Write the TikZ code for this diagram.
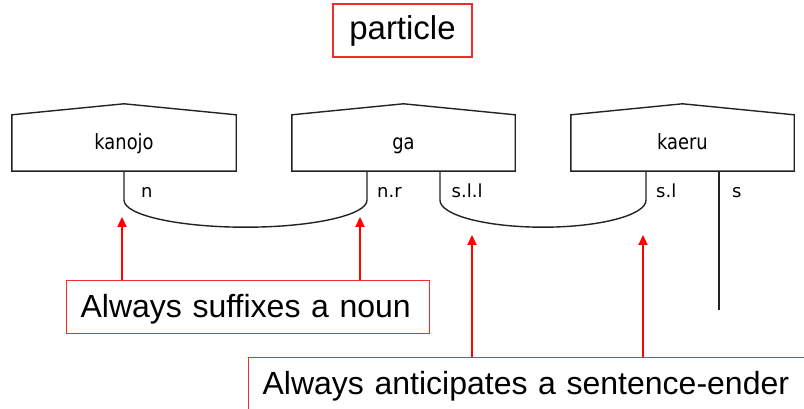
\documentclass[tikz,border=0pt]{standalone}
\usepackage{fontspec}
\setmainfont{Liberation Sans}
\newfontfamily\wordfont[FakeStretch=0.85]{DejaVu Sans}
\newfontfamily\portfont{DejaVu Sans}
\usetikzlibrary{calc,arrows.meta}
\definecolor{notered}{RGB}{240,45,45}
\definecolor{linkgray}{RGB}{35,35,35}
\begin{document}
\begin{tikzpicture}[x=1pt,y=1pt,
  wordbox/.style={minimum width=223pt, minimum height=56pt, inner sep=0pt,
    text height=17pt, text depth=3pt,
    font=\wordfont\fontsize{21}{25}\selectfont},
  portlabel/.style={anchor=base west, inner sep=0pt,
    font=\portfont\fontsize{18}{22}\selectfont},
  link/.style={draw=linkgray, line width=1.4pt},
  notebox/.style={draw=notered, line width=1.2pt, anchor=north west,
    inner xsep=14pt, inner ysep=0pt, minimum height=53pt,
    text height=25pt, text depth=4pt, align=left,
    font=\fontsize{32}{38}\selectfont},
  redarrow/.style={draw=red, line width=2.2pt, -{Triangle[length=10pt,width=9pt]}}
]
\useasboundingbox (0,0) rectangle (804,409);
\clip (0,0) rectangle (804,409);

% title
\node[draw=notered, line width=1.2pt, minimum width=139pt, minimum height=53pt,
  inner sep=0pt, font=\fontsize{33}{40}\selectfont] (particle) at (402.5,378.5) {particle};

% word boxes
\node[wordbox, minimum width=224pt] (kanojo) at (124,266) {kanojo};
\node[wordbox] (ga) at (403.5,266) {ga};
\node[wordbox] (kaeru) at (682.5,266) {kaeru};
\foreach \w in {kanojo,ga,kaeru}
  \draw[link, line join=miter] (\w.north west) -- (\w.south west) -- (\w.south east)
    -- (\w.north east) -- ($(\w.north)+(0,11)$) -- cycle;

% links
\draw[link] (kanojo.south) -- ++(0,-29)
  arc[start angle=180, end angle=360, x radius=121.5pt, y radius=27pt]
  -- ([xshift=-36.5pt]ga.south);
\draw[link] ([xshift=36.5pt]ga.south) -- ++(0,-29)
  arc[start angle=180, end angle=360, x radius=103pt, y radius=27pt]
  -- ([xshift=-36.5pt]kaeru.south);
\coordinate (sEnd) at (719,99);
\draw[link] ([xshift=36.5pt]kaeru.south) -- (sEnd);

% port labels
\node[portlabel] (pn) at (141,211) {n};
\node[portlabel] (pnr) at (377,211) {n.r};
\node[portlabel] (psll) at (451.5,211) {s.l.l};
\node[portlabel] (psl) at (656,211) {s.l};
\node[portlabel] (ps) at (732,211) {s};

% notes
\node[notebox, text width=335pt] (noun) at (66,129) {Always suffixes a noun};
\node[notebox, text width=530pt] (ender) at (248,52) {Always anticipates a sentence-ender};

% arrows
\coordinate (t1) at (122,192);
\coordinate (t2) at (360,192);
\coordinate (t3) at (472,174);
\coordinate (t4) at (643,174);
\draw[redarrow] (noun.north -| t1) -- (t1);
\draw[redarrow] (noun.north -| t2) -- (t2);
\draw[redarrow] (ender.north -| t3) -- (t3);
\draw[redarrow] (ender.north -| t4) -- (t4);
\end{tikzpicture}
\end{document}
